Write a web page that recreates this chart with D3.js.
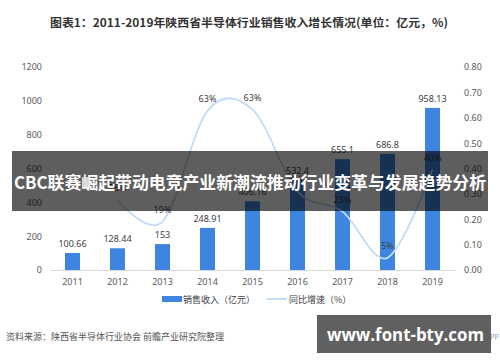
<!DOCTYPE html>
<html>
<head>
<meta charset="utf-8">
<script src="https://cdn.jsdelivr.net/npm/d3@7"></script>
<style>
  body { margin: 0; background: #fff; }
  text { font-family: "Noto Sans CJK SC", "Noto Sans", sans-serif; }
</style>
</head>
<body>
<div id="chart"></div>
<script>
// data
var years = ["2011", "2012", "2013", "2014", "2015", "2016", "2017", "2018", "2019"];
var sales = [100.66, 128.44, 153, 248.91, 406.16, 532.4, 655.1, 686.8, 958.13];
var growthYears = ["2012", "2013", "2014", "2015", "2016", "2017", "2018", "2019"];
var growth = [0.276, 0.191, 0.627, 0.632, 0.311, 0.230, 0.048, 0.395];
var leftTicks = [0, 200, 400, 600, 800, 1000, 1200];
var rightTicks = [0, 0.1, 0.2, 0.3, 0.4, 0.5, 0.6, 0.7, 0.8];

var svg_w = 500, svg_h = 362;
var plot = {left: 50, right: 455, top: 67, bottom: 270};

var svg = d3.select("#chart").append("svg")
    .attr("width", svg_w)
    .attr("height", svg_h);

// scales
var x = d3.scaleBand()
    .domain(years)
    .range([plot.left, plot.right])
    .paddingInner(0.667)
    .paddingOuter(0.333);

var yL = d3.scaleLinear().domain([0, 1200]).range([plot.bottom, plot.top]);
var yR = d3.scaleLinear().domain([0, 0.8]).range([plot.bottom, plot.top]);

// title
svg.append("text")
    .attr("x", 50)
    .attr("y", 27)
    .attr("font-size", 11.5)
    .attr("font-weight", "bold")
    .attr("fill", "#333")
    .attr("textLength", 398)
    .attr("lengthAdjust", "spacingAndGlyphs")
    .text("图表1：2011-2019年陕西省半导体行业销售收入增长情况(单位：亿元，%)");

// axes
var gl = svg.append("g")
    .attr("transform", "translate(" + plot.left + ",0)")
    .call(d3.axisLeft(yL).tickValues(leftTicks).tickSize(0).tickPadding(8).tickFormat(d3.format("d")));
gl.select(".domain").remove();

var gr = svg.append("g")
    .attr("transform", "translate(" + plot.right + ",0)")
    .call(d3.axisRight(yR).tickValues(rightTicks).tickSize(0).tickPadding(9).tickFormat(d3.format(".2f")));
gr.select(".domain").remove();

var gx = svg.append("g")
    .attr("transform", "translate(0," + plot.bottom + ")")
    .call(d3.axisBottom(x).tickSize(0).tickPadding(9));
gx.select(".domain").attr("stroke", "#d9d9d9");

svg.selectAll(".tick text")
    .attr("font-size", 9)
    .attr("fill", "#595959")
    .style("font-family", "'Noto Sans', sans-serif");

// bars
svg.selectAll(".bar")
    .data(sales)
    .enter()
    .append("rect")
    .attr("class", "bar")
    .attr("x", function(d, i) { return x(years[i]); })
    .attr("y", function(d) { return yL(d); })
    .attr("width", x.bandwidth())
    .attr("height", function(d) { return yL(0) - yL(d); })
    .attr("fill", "#3d85de");

svg.selectAll(".barlabel")
    .data(sales)
    .enter()
    .append("text")
    .attr("class", "barlabel")
    .attr("x", function(d, i) { return x(years[i]) + x.bandwidth() / 2; })
    .attr("y", function(d) { return yL(d) - 6; })
    .attr("text-anchor", "middle")
    .attr("font-size", 9)
    .attr("fill", "#404040")
    .style("font-family", "'Noto Sans', sans-serif")
    .text(function(d) { return d; });

// growth line
var line = d3.line()
    .x(function(d, i) { return x(growthYears[i]) + x.bandwidth() / 2; })
    .y(function(d) { return yR(d); })
    .curve(d3.curveCardinal.tension(0));

svg.append("path")
    .datum(growth)
    .attr("d", line)
    .attr("fill", "none")
    .attr("stroke", "#c2dbf6")
    .attr("stroke-width", 1.8);

svg.selectAll(".pctlabel")
    .data(growth)
    .enter()
    .append("text")
    .attr("class", "pctlabel")
    .attr("x", function(d, i) { return x(growthYears[i]) + x.bandwidth() / 2; })
    .attr("y", function(d) { return yR(d) - 9; })
    .attr("text-anchor", "middle")
    .attr("font-size", 9)
    .attr("fill", "#404040")
    .style("font-family", "'Noto Sans', sans-serif")
    .text(function(d) { return Math.round(d * 100) + "%"; });

// legend
svg.append("rect")
    .attr("x", 162).attr("y", 296)
    .attr("width", 20).attr("height", 6)
    .attr("fill", "#3d85de");
svg.append("text")
    .attr("x", 183).attr("y", 302.5)
    .attr("font-size", 9).attr("fill", "#404040")
    .text("销售收入（亿元）");
svg.append("line")
    .attr("x1", 267).attr("x2", 287)
    .attr("y1", 299).attr("y2", 299)
    .attr("stroke", "#c2dbf6").attr("stroke-width", 2);
svg.append("text")
    .attr("x", 289).attr("y", 302.5)
    .attr("font-size", 9).attr("fill", "#404040")
    .text("同比增速（%）");

// source
svg.append("text")
    .attr("x", 6).attr("y", 340)
    .attr("font-size", 9).attr("fill", "#555")
    .text("资料来源：陕西省半导体行业协会 前瞻产业研究院整理");

svg.append("text")
    .attr("x", 499).attr("y", 340)
    .attr("text-anchor", "end")
    .attr("font-size", 7).attr("fill", "#999")
    .text("前瞻经济学人APP");

// overlay banner
svg.append("rect")
    .attr("x", 12).attr("y", 151)
    .attr("width", 476).attr("height", 60)
    .attr("fill", "rgba(0,0,0,0.63)");
svg.append("text")
    .attr("x", 14).attr("y", 189)
    .attr("font-size", 17)
    .attr("font-weight", "bold")
    .attr("fill", "#fff")
    .attr("textLength", 472)
    .attr("lengthAdjust", "spacingAndGlyphs")
    .text("CBC联赛崛起带动电竞产业新潮流推动行业变革与发展趋势分析");

// site box
svg.append("rect")
    .attr("x", 317).attr("y", 315)
    .attr("width", 174).attr("height", 38)
    .attr("fill", "#606060");
svg.append("text")
    .attr("x", 327).attr("y", 341)
    .attr("font-size", 18)
    .attr("font-weight", "bold")
    .attr("fill", "#fff")
    .attr("textLength", 157)
    .attr("lengthAdjust", "spacingAndGlyphs")
    .style("font-family", "'Open Sans', 'Noto Sans', sans-serif")
    .text("www.font-bty.com");
</script>
</body>
</html>
